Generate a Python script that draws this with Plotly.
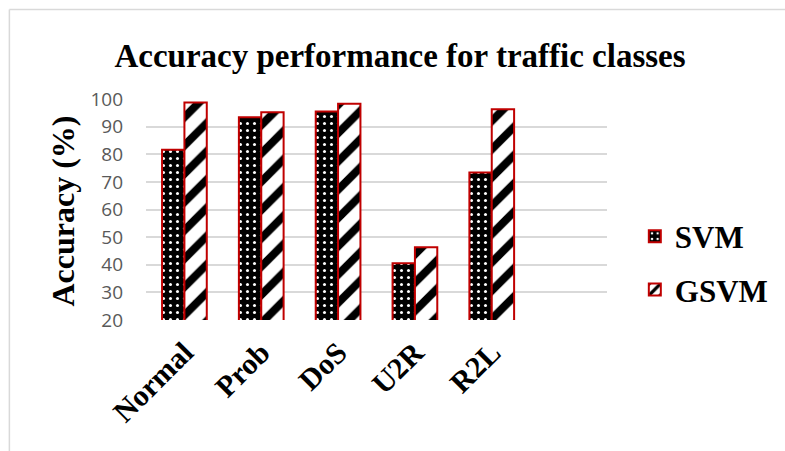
import plotly.graph_objects as go

categories = ["Normal", "Prob", "DoS", "U2R", "R2L", " "]
svm = [81.6, 93.4, 95.5, 40.5, 73.4, None]
gsvm = [98.7, 95.2, 98.3, 46.3, 96.3, None]
y_ticks = [20, 30, 40, 50, 60, 70, 80, 90, 100]

serif = "Liberation Serif, Times New Roman, serif"
red = "#C00000"

fig = go.Figure()
fig.add_trace(go.Bar(
    name="<b>SVM</b>", x=categories, y=svm, legendgroup="a",
    marker=dict(color="black", line=dict(color=red, width=2),
                pattern=dict(shape=".", bgcolor="black", fgcolor="white", fgopacity=1,
                             size=7, solidity=0.15)),
))
fig.add_trace(go.Bar(
    name="<b>GSVM</b>", x=categories, y=gsvm, legendgroup="b",
    marker=dict(color="white", line=dict(color=red, width=2),
                pattern=dict(shape="/", bgcolor="white", fgcolor="black", fgopacity=1,
                             size=20, solidity=0.4)),
))

L, R, T, B = 146, 610, 99, 320
W, H = 785, 451
pw, ph = R - L, B - T

def px(x):
    return (x - L) / pw

def py(y):
    return (B - y) / ph

fig.update_layout(
    width=W, height=H,
    margin=dict(l=L, r=W - R, t=T, b=H - B, pad=0),
    paper_bgcolor="white", plot_bgcolor="white",
    barmode="group", bargap=0.418, bargroupgap=0,
    title=dict(text="<b>Accuracy performance for traffic classes</b>",
               font=dict(family=serif, size=33, color="black"),
               x=400 / W, xanchor="center", y=1 - 55 / H, yanchor="middle"),
    legend=dict(x=px(638), xanchor="left", y=py(263), yanchor="middle",
                font=dict(family=serif, size=31, color="black"),
                itemwidth=30, tracegroupgap=10, traceorder="grouped", bgcolor="rgba(0,0,0,0)"),
    xaxis=dict(categoryorder="array", categoryarray=categories, range=[-0.5, 5.5],
               tickangle=-45, showgrid=False, showline=False, ticks="",
               tickfont=dict(family=serif, size=30, color="black"),
               tickprefix="<b>", ticksuffix="</b>", ticklabelstandoff=8),
    yaxis=dict(range=[20, 100], tickvals=y_ticks, showgrid=True, gridcolor="#d9d9d9",
               gridwidth=1.5, zeroline=False, showline=False, ticks="",
               tickfont=dict(family="Open Sans, Liberation Sans, sans-serif", size=19, color="#595959"),
               ticklabelstandoff=22),
    annotations=[dict(text="<b>Accuracy (%)</b>", x=px(62), y=py(211), xref="paper", yref="paper",
                      textangle=-90, showarrow=False, xanchor="center", yanchor="middle",
                      font=dict(family=serif, size=32, color="black"))],
    shapes=[
        dict(type="line", xref="paper", yref="paper", x0=px(8.5), x1=px(800), y0=py(9.5), y1=py(9.5),
             line=dict(color="#d9d9d9", width=1.5)),
        dict(type="line", xref="paper", yref="paper", x0=px(8.5), x1=px(8.5), y0=py(9.5), y1=py(470),
             line=dict(color="#d9d9d9", width=1.5)),
    ],
)

fig.write_html("out.html", config={"displayModeBar": False})

with open("out.html", "r", encoding="utf-8") as f:
    html = f.read()
html = html.replace("<head>", "<head><style>html,body{margin:0;padding:0;overflow:hidden;}</style>", 1)
with open("out.html", "w", encoding="utf-8") as f:
    f.write(html)
